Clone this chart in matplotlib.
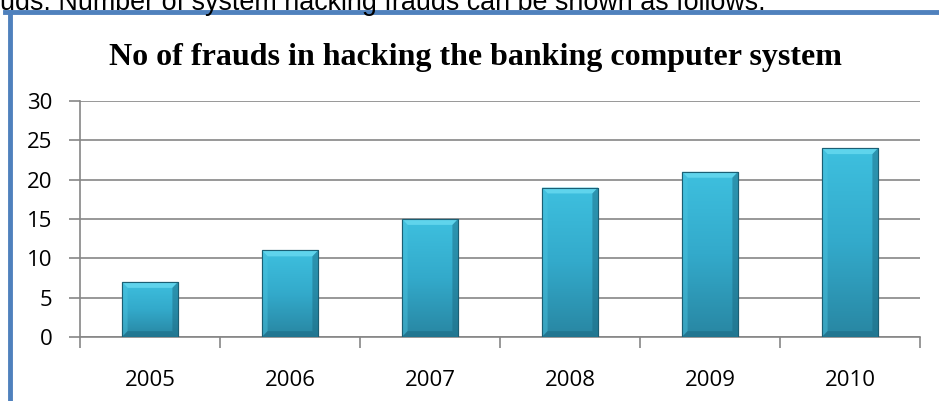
import matplotlib.pyplot as plt
import matplotlib.lines as mlines
import numpy as np
from matplotlib.colors import LinearSegmentedColormap
from matplotlib.patches import Polygon

years = ['2005', '2006', '2007', '2008', '2009', '2010']
frauds = [7, 11, 15, 19, 21, 24]
yticks = [0, 5, 10, 15, 20, 25, 30]

title = 'No of frauds in hacking the banking computer system'
caption = 'uds. Number of system hacking frauds can be shown as follows.'

fig = plt.figure(figsize=(9.39, 4.01), dpi=100)
ax = fig.add_axes([80 / 939, 1 - 337 / 401, 840 / 939, 236 / 401])

x = np.arange(len(years))
bar_w = 0.4
bars = ax.bar(x, frauds, width=bar_w, color='#2fa3c4', edgecolor='#1b5f74',
              linewidth=0.8, zorder=3)

# vertical gradient inside each bar, lighter on top
cmap = LinearSegmentedColormap.from_list('bar', ['#2886a2', '#33aacb', '#3ec0df'])
grad = np.linspace(0, 1, 256).reshape(-1, 1)
bev_x = 0.04
bev_y = 0.75
for rect, v in zip(bars, frauds):
    x0 = rect.get_x()
    x1 = x0 + rect.get_width()
    im = ax.imshow(grad, extent=[x0, x1, 0, v], origin='lower', aspect='auto',
                   cmap=cmap, zorder=3.1)
    im.set_clip_path(rect)
    # bevel facets
    top = Polygon([[x0, v], [x1, v], [x1 - bev_x, v - bev_y], [x0 + bev_x, v - bev_y]],
                  closed=True, facecolor='#66d8ef', edgecolor='none', alpha=0.85, zorder=3.2)
    left = Polygon([[x0, v], [x0 + bev_x, v - bev_y], [x0 + bev_x, bev_y], [x0, 0]],
                   closed=True, facecolor='#4cc4e0', edgecolor='none', alpha=0.45, zorder=3.2)
    right = Polygon([[x1, v], [x1 - bev_x, v - bev_y], [x1 - bev_x, bev_y], [x1, 0]],
                    closed=True, facecolor='#1c6a82', edgecolor='none', alpha=0.5, zorder=3.2)
    bottom = Polygon([[x0, 0], [x1, 0], [x1 - bev_x, bev_y], [x0 + bev_x, bev_y]],
                     closed=True, facecolor='#1b6780', edgecolor='none', alpha=0.5, zorder=3.2)
    for p in (top, left, right, bottom):
        ax.add_patch(p)
    edge = plt.Rectangle((x0, 0), rect.get_width(), v, fill=False,
                         edgecolor='#1b5f74', linewidth=0.8, zorder=3.3)
    ax.add_patch(edge)

ax.set_xlim(-0.5, len(years) - 0.5)
ax.set_ylim(0, 30)
ax.set_yticks(yticks)
ax.set_yticklabels([str(t) for t in yticks], fontsize=16, family='Open Sans')
ax.set_xticks(x)
ax.set_xticklabels(years, fontsize=16, family='Open Sans')
ax.set_xticks(np.arange(len(years) + 1) - 0.5, minor=True)
ax.tick_params(axis='x', which='major', length=0, pad=24)
ax.tick_params(axis='x', which='minor', length=8, color='#868686', width=1.2)
ax.tick_params(axis='y', length=8, color='#868686', width=1.2, pad=12)
ax.yaxis.grid(True, color='#868686', linewidth=1.2, zorder=0)
ax.set_axisbelow(True)
for s in ('top', 'right'):
    ax.spines[s].set_visible(False)
ax.spines['left'].set_color('#868686')
ax.spines['bottom'].set_color('#868686')
ax.spines['left'].set_linewidth(1.2)
ax.spines['bottom'].set_linewidth(1.2)

fig.text(475 / 939, 1 - 57 / 401, title, ha='center', va='center',
         fontsize=23, fontweight='bold', family='Liberation Serif')

fig.text(0, 1 - 10 / 401, caption, ha='left', va='baseline', fontsize=19.4,
         family='Liberation Sans', color='black')

# blue frame around the chart
fig.add_artist(mlines.Line2D([5 / 939, 1], [1 - 12 / 401, 1 - 12 / 401],
                             color='#4f81bd', linewidth=3.5, transform=fig.transFigure))
fig.add_artist(mlines.Line2D([10 / 939, 10 / 939], [0, 1 - 12 / 401],
                             color='#4f81bd', linewidth=3.5, transform=fig.transFigure))

fig.savefig('out.png', dpi=100)
